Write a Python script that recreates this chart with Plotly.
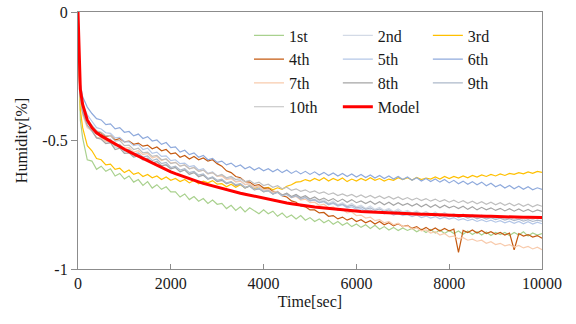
import plotly.graph_objects as go

# time grid [sec]
time_sec = [0, 25, 50] + list(range(100, 10001, 100))

s1 = [0, -0.30, -0.42,
      -0.49, -0.575, -0.58, -0.612, -0.60, -0.62, -0.61, -0.638, -0.628, -0.65,
      -0.638, -0.662, -0.652, -0.675, -0.66, -0.685, -0.672, -0.69, -0.68, -0.70,
      -0.70, -0.72, -0.708, -0.73, -0.718, -0.736, -0.726, -0.745, -0.732, -0.748,
      -0.745, -0.765, -0.752, -0.772, -0.758, -0.778, -0.762, -0.772, -0.785, -0.77,
      -0.785, -0.775, -0.795, -0.782, -0.80, -0.79, -0.805, -0.792, -0.81, -0.80,
      -0.815, -0.805, -0.82, -0.81, -0.826, -0.815, -0.83, -0.82, -0.835, -0.825,
      -0.838, -0.828, -0.842, -0.83, -0.845, -0.835, -0.848, -0.838, -0.85, -0.84,
      -0.85, -0.842, -0.855, -0.845, -0.858, -0.846, -0.86, -0.848, -0.862, -0.85,
      -0.862, -0.852, -0.865, -0.852, -0.866, -0.855, -0.868, -0.856, -0.87, -0.858,
      -0.866, -0.858, -0.87, -0.858, -0.868, -0.855, -0.872, -0.86, -0.868, -0.862]
s2 = [0, -0.24, -0.33,
      -0.39, -0.445, -0.465, -0.49, -0.492, -0.51, -0.508, -0.528, -0.525, -0.545,
      -0.54, -0.56, -0.552, -0.575, -0.568, -0.588, -0.58, -0.60, -0.592, -0.61,
      -0.605, -0.622, -0.612, -0.632, -0.622, -0.642, -0.632, -0.652, -0.642, -0.658,
      -0.652, -0.668, -0.66, -0.675, -0.668, -0.685, -0.676, -0.692, -0.684, -0.70,
      -0.695, -0.708, -0.70, -0.715, -0.705, -0.72, -0.712, -0.728, -0.718, -0.732,
      -0.728, -0.738, -0.73, -0.745, -0.735, -0.75, -0.742, -0.755, -0.745, -0.758,
      -0.752, -0.765, -0.755, -0.768, -0.76, -0.772, -0.764, -0.776, -0.766, -0.778,
      -0.772, -0.782, -0.774, -0.785, -0.776, -0.788, -0.778, -0.79, -0.78, -0.792,
      -0.785, -0.795, -0.786, -0.798, -0.788, -0.80, -0.79, -0.802, -0.792, -0.804,
      -0.796, -0.806, -0.797, -0.808, -0.798, -0.81, -0.80, -0.808, -0.799, -0.806]
s3 = [0, -0.28, -0.38,
      -0.45, -0.52, -0.54, -0.57, -0.575, -0.595, -0.592, -0.612, -0.608, -0.625,
      -0.615, -0.632, -0.625, -0.64, -0.632, -0.645, -0.638, -0.652, -0.642, -0.655,
      -0.648, -0.66, -0.652, -0.665, -0.655, -0.668, -0.658, -0.665, -0.656, -0.67,
      -0.668, -0.68, -0.67, -0.682, -0.672, -0.684, -0.676, -0.688, -0.678, -0.686,
      -0.682, -0.692, -0.684, -0.69, -0.678, -0.672, -0.662, -0.66, -0.652, -0.658,
      -0.648, -0.656, -0.645, -0.658, -0.648, -0.656, -0.646, -0.66, -0.65, -0.658,
      -0.648, -0.656, -0.645, -0.655, -0.648, -0.658, -0.65, -0.655, -0.645, -0.652,
      -0.645, -0.654, -0.644, -0.652, -0.646, -0.65, -0.642, -0.65, -0.64, -0.648,
      -0.64, -0.646, -0.638, -0.645, -0.636, -0.642, -0.634, -0.64, -0.632, -0.638,
      -0.63, -0.636, -0.628, -0.632, -0.625, -0.63, -0.622, -0.628, -0.62, -0.624]
s4 = [0, -0.25, -0.33,
      -0.39, -0.43, -0.445, -0.465, -0.47, -0.485, -0.48, -0.498, -0.492, -0.505,
      -0.502, -0.515, -0.51, -0.522, -0.518, -0.532, -0.525, -0.54, -0.535, -0.552,
      -0.548, -0.565, -0.558, -0.572, -0.562, -0.575, -0.568, -0.58, -0.575, -0.59,
      -0.60, -0.618, -0.625, -0.64, -0.645, -0.66, -0.662, -0.675, -0.672, -0.685,
      -0.685, -0.698, -0.70, -0.715, -0.72, -0.735, -0.74, -0.755, -0.758, -0.77,
      -0.77, -0.782, -0.78, -0.795, -0.792, -0.805, -0.798, -0.81, -0.802, -0.815,
      -0.808, -0.82, -0.812, -0.825, -0.815, -0.828, -0.82, -0.832, -0.824, -0.835,
      -0.83, -0.842, -0.835, -0.848, -0.838, -0.85, -0.84, -0.852, -0.842, -0.852,
      -0.845, -0.935, -0.85, -0.858, -0.848, -0.86, -0.85, -0.862, -0.855, -0.865,
      -0.858, -0.868, -0.86, -0.925, -0.862, -0.872, -0.866, -0.876, -0.87, -0.88]
s5 = [0, -0.21, -0.30,
      -0.36, -0.40, -0.425, -0.45, -0.455, -0.47, -0.472, -0.49, -0.488, -0.505,
      -0.505, -0.52, -0.515, -0.535, -0.53, -0.55, -0.545, -0.562, -0.56, -0.578,
      -0.575, -0.59, -0.588, -0.602, -0.598, -0.615, -0.61, -0.628, -0.622, -0.638,
      -0.635, -0.65, -0.645, -0.66, -0.655, -0.672, -0.668, -0.682, -0.678, -0.692,
      -0.69, -0.702, -0.698, -0.712, -0.708, -0.72, -0.715, -0.728, -0.722, -0.735,
      -0.732, -0.742, -0.738, -0.75, -0.745, -0.755, -0.75, -0.762, -0.758, -0.768,
      -0.765, -0.775, -0.77, -0.78, -0.775, -0.785, -0.78, -0.79, -0.784, -0.792,
      -0.788, -0.796, -0.79, -0.80, -0.794, -0.802, -0.796, -0.805, -0.798, -0.806,
      -0.80, -0.81, -0.804, -0.812, -0.806, -0.815, -0.808, -0.816, -0.81, -0.818,
      -0.812, -0.82, -0.814, -0.822, -0.815, -0.824, -0.816, -0.825, -0.818, -0.824]
s6 = [0, -0.20, -0.28,
      -0.33, -0.37, -0.395, -0.415, -0.42, -0.438, -0.435, -0.455, -0.45, -0.468,
      -0.465, -0.482, -0.475, -0.492, -0.485, -0.502, -0.498, -0.515, -0.508, -0.528,
      -0.525, -0.545, -0.538, -0.555, -0.548, -0.565, -0.558, -0.575, -0.57, -0.585,
      -0.58, -0.595, -0.588, -0.602, -0.595, -0.61, -0.602, -0.615, -0.606, -0.618,
      -0.61, -0.622, -0.612, -0.625, -0.615, -0.628, -0.618, -0.63, -0.62, -0.632,
      -0.622, -0.634, -0.624, -0.636, -0.626, -0.638, -0.628, -0.64, -0.63, -0.642,
      -0.632, -0.644, -0.634, -0.646, -0.636, -0.648, -0.638, -0.65, -0.64, -0.652,
      -0.642, -0.655, -0.645, -0.658, -0.648, -0.66, -0.65, -0.662, -0.652, -0.665,
      -0.655, -0.668, -0.658, -0.67, -0.66, -0.672, -0.662, -0.676, -0.666, -0.68,
      -0.672, -0.685, -0.675, -0.688, -0.678, -0.69, -0.68, -0.692, -0.684, -0.69]
s7 = [0, -0.26, -0.34,
      -0.40, -0.45, -0.462, -0.488, -0.49, -0.505, -0.50, -0.522, -0.515, -0.53,
      -0.528, -0.545, -0.54, -0.555, -0.55, -0.568, -0.562, -0.578, -0.572, -0.588,
      -0.585, -0.60, -0.595, -0.61, -0.605, -0.62, -0.615, -0.63, -0.625, -0.64,
      -0.638, -0.652, -0.648, -0.662, -0.658, -0.672, -0.668, -0.682, -0.678, -0.692,
      -0.69, -0.702, -0.698, -0.712, -0.708, -0.722, -0.718, -0.732, -0.728, -0.742,
      -0.74, -0.752, -0.748, -0.762, -0.758, -0.772, -0.768, -0.782, -0.778, -0.792,
      -0.79, -0.802, -0.798, -0.812, -0.808, -0.82, -0.815, -0.828, -0.822, -0.835,
      -0.832, -0.845, -0.84, -0.852, -0.848, -0.86, -0.855, -0.868, -0.862, -0.875,
      -0.872, -0.882, -0.878, -0.888, -0.884, -0.892, -0.888, -0.90, -0.894, -0.905,
      -0.90, -0.91, -0.905, -0.915, -0.908, -0.918, -0.912, -0.922, -0.915, -0.925]
s8 = [0, -0.24, -0.33,
      -0.39, -0.44, -0.462, -0.49, -0.495, -0.512, -0.508, -0.535, -0.53, -0.55,
      -0.548, -0.565, -0.56, -0.575, -0.57, -0.588, -0.582, -0.598, -0.595, -0.61,
      -0.605, -0.622, -0.615, -0.632, -0.625, -0.64, -0.635, -0.65, -0.645, -0.66,
      -0.655, -0.668, -0.662, -0.675, -0.67, -0.685, -0.678, -0.692, -0.688, -0.70,
      -0.695, -0.708, -0.70, -0.712, -0.705, -0.718, -0.71, -0.722, -0.715, -0.728,
      -0.72, -0.732, -0.724, -0.735, -0.726, -0.738, -0.728, -0.74, -0.73, -0.742,
      -0.735, -0.745, -0.736, -0.748, -0.738, -0.75, -0.74, -0.752, -0.742, -0.752,
      -0.745, -0.755, -0.746, -0.758, -0.748, -0.76, -0.75, -0.762, -0.752, -0.762,
      -0.755, -0.765, -0.756, -0.768, -0.758, -0.77, -0.76, -0.77, -0.762, -0.772,
      -0.764, -0.774, -0.765, -0.775, -0.766, -0.776, -0.768, -0.778, -0.77, -0.776]
s9 = [0, -0.23, -0.32,
      -0.38, -0.43, -0.45, -0.475, -0.48, -0.498, -0.495, -0.52, -0.515, -0.54,
      -0.535, -0.552, -0.548, -0.565, -0.56, -0.578, -0.572, -0.59, -0.585, -0.605,
      -0.60, -0.615, -0.61, -0.625, -0.62, -0.635, -0.63, -0.648, -0.642, -0.655,
      -0.65, -0.665, -0.66, -0.672, -0.668, -0.682, -0.676, -0.69, -0.685, -0.698,
      -0.695, -0.708, -0.702, -0.715, -0.71, -0.722, -0.716, -0.728, -0.722, -0.735,
      -0.73, -0.742, -0.736, -0.748, -0.742, -0.752, -0.748, -0.758, -0.752, -0.762,
      -0.758, -0.768, -0.762, -0.772, -0.766, -0.776, -0.77, -0.78, -0.774, -0.782,
      -0.778, -0.786, -0.78, -0.79, -0.784, -0.792, -0.786, -0.795, -0.788, -0.796,
      -0.79, -0.80, -0.794, -0.802, -0.796, -0.805, -0.798, -0.806, -0.80, -0.808,
      -0.802, -0.81, -0.804, -0.812, -0.806, -0.814, -0.808, -0.815, -0.81, -0.814]
s10 = [0, -0.22, -0.31,
       -0.37, -0.42, -0.44, -0.462, -0.468, -0.482, -0.48, -0.502, -0.50, -0.52,
       -0.518, -0.535, -0.53, -0.548, -0.545, -0.562, -0.558, -0.575, -0.572, -0.59,
       -0.585, -0.60, -0.595, -0.61, -0.605, -0.62, -0.615, -0.63, -0.625, -0.638,
       -0.632, -0.645, -0.64, -0.652, -0.648, -0.66, -0.655, -0.668, -0.662, -0.675,
       -0.67, -0.682, -0.676, -0.688, -0.682, -0.694, -0.688, -0.698, -0.692, -0.702,
       -0.696, -0.706, -0.70, -0.71, -0.704, -0.714, -0.708, -0.716, -0.71, -0.72,
       -0.712, -0.722, -0.714, -0.724, -0.716, -0.726, -0.718, -0.728, -0.72, -0.73,
       -0.722, -0.732, -0.724, -0.734, -0.726, -0.736, -0.728, -0.738, -0.73, -0.74,
       -0.732, -0.742, -0.734, -0.744, -0.736, -0.746, -0.738, -0.748, -0.74, -0.75,
       -0.742, -0.752, -0.744, -0.754, -0.746, -0.756, -0.748, -0.758, -0.75, -0.756]
model = [0, -0.20, -0.30,
         -0.36, -0.42, -0.45, -0.47, -0.482, -0.493, -0.504, -0.514, -0.524, -0.534,
         -0.543, -0.552, -0.561, -0.57, -0.579, -0.588, -0.597, -0.605, -0.613, -0.622,
         -0.629, -0.636, -0.642, -0.648, -0.655, -0.661, -0.667, -0.672, -0.678, -0.683,
         -0.688, -0.692, -0.697, -0.701, -0.705, -0.709, -0.713, -0.717, -0.721, -0.725,
         -0.729, -0.733, -0.736, -0.74, -0.743, -0.746, -0.749, -0.752, -0.755, -0.757,
         -0.759, -0.761, -0.763, -0.765, -0.767, -0.769, -0.77, -0.772, -0.773, -0.775,
         -0.776, -0.777, -0.778, -0.779, -0.78, -0.781, -0.782, -0.783, -0.784, -0.785,
         -0.785, -0.786, -0.786, -0.787, -0.787, -0.788, -0.788, -0.789, -0.789, -0.79,
         -0.791, -0.792, -0.792, -0.793, -0.793, -0.794, -0.794, -0.795, -0.795, -0.796,
         -0.796, -0.797, -0.797, -0.798, -0.798, -0.799, -0.799, -0.80, -0.80, -0.80]

series_names = ["1st", "2nd", "3rd", "4th", "5th", "6th", "7th", "8th", "9th", "10th"]
series_values = [s1, s2, s3, s4, s5, s6, s7, s8, s9, s10]
series_colors = ["#a9d18e", "#d3dae6", "#ffc000", "#c55a11", "#b4c7e7",
                 "#8faadc", "#f8cbad", "#a5a5a5", "#adb9ca", "#bfbfbf"]
legend_ids = ["legend", "legend2", "legend3"]

x_tick_vals = [0, 2000, 4000, 6000, 8000, 10000]
x_tick_text = ["0", "2000", "4000", "6000", "8000", "10000"]
y_tick_vals = [0, -0.5, -1]
y_tick_text = ["0", "-0.5", "-1"]

FONT = "Liberation Serif"
TXT = "#1a1a1a"
AX = "#8c8c8c"

fig = go.Figure()
for i, (nm, vals, col) in enumerate(zip(series_names, series_values, series_colors)):
    fig.add_trace(go.Scatter(x=time_sec, y=vals, mode="lines", name=nm,
                             line=dict(color=col, width=1.2),
                             legend=legend_ids[i % 3]))
fig.add_trace(go.Scatter(x=time_sec, y=model, mode="lines", name="Model",
                         line=dict(color="#ff0000", width=3),
                         legend="legend2"))

leg_common = dict(yanchor="top", xanchor="left", orientation="v",
                  bgcolor="rgba(0,0,0,0)", borderwidth=0, itemwidth=30,
                  font=dict(family=FONT, size=16, color=TXT),
                  tracegroupgap=0, itemclick=False, itemdoubleclick=False)
y_top = 0.975
fig.update_layout(
    width=576, height=324,
    margin=dict(l=78, r=34, t=12, b=55, autoexpand=False),
    paper_bgcolor="white", plot_bgcolor="white",
    font=dict(family=FONT, size=16, color=TXT),
    legend=dict(x=0.3685, y=y_top, **leg_common),
    legend2=dict(x=0.560, y=y_top, **leg_common),
    legend3=dict(x=0.754, y=y_top, **leg_common),
    xaxis=dict(range=[0, 10000], tickmode="array", tickvals=x_tick_vals, ticktext=x_tick_text,
               ticks="inside", ticklen=5, tickcolor=AX, showline=True, linecolor=AX,
               linewidth=1.3, mirror=True, showgrid=False, zeroline=False, automargin=False,
               title=dict(text="Time[sec]", standoff=4, font=dict(family=FONT, size=16, color=TXT)),
               tickfont=dict(family=FONT, size=16, color=TXT)),
    yaxis=dict(range=[-1, 0], tickmode="array", tickvals=y_tick_vals, ticktext=y_tick_text,
               ticks="outside", ticklen=6, tickcolor=AX, showline=True, linecolor=AX,
               linewidth=1.3, mirror=True, showgrid=False, zeroline=False, automargin=False,
               title=dict(text="Humidity[%]", standoff=10, font=dict(family=FONT, size=16, color=TXT)),
               tickfont=dict(family=FONT, size=16, color=TXT)),
)

fig.write_html("out.html", config={"displayModeBar": False},
               post_script="document.body.style.margin='0px';document.body.style.padding='0px';")
